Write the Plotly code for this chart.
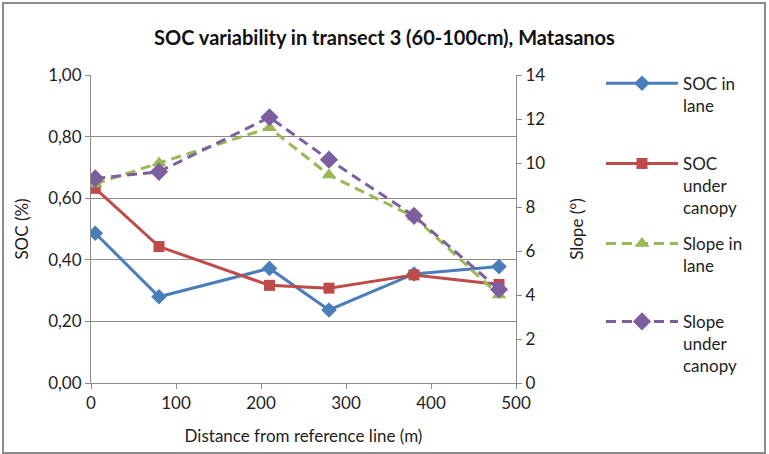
import plotly.graph_objects as go

# Distance along the transect (m)
distance = [5, 80, 210, 280, 380, 480]

# Soil organic carbon (%)
soc_lane = [0.486, 0.280, 0.372, 0.237, 0.354, 0.378]
soc_canopy = [0.632, 0.443, 0.317, 0.308, 0.351, 0.320]

# Slope (degrees)
slope_lane = [9.05, 10.0, 11.6, 9.45, 7.55, 4.0]
slope_canopy = [9.3, 9.6, 12.08, 10.15, 7.6, 4.25]

soc_ticks = [0.0, 0.2, 0.4, 0.6, 0.8, 1.0]
slope_ticks = [0, 2, 4, 6, 8, 10, 12, 14]
dist_ticks = [0, 100, 200, 300, 400, 500]

FONT = "Lato"
TXT = "#1e1e1e"
AXIS = "#8C8C8C"
BLUE = "#4A7EBB"
RED = "#BE4B48"
GREEN = "#98B954"
PURPLE = "#7D5FA0"

fig = go.Figure()
fig.add_trace(go.Scatter(
    x=distance, y=soc_lane, name="SOC in<br>lane", mode="lines+markers",
    line=dict(color=BLUE, width=3), marker=dict(symbol="diamond", size=12, color=BLUE),
    legend="legend", showlegend=True))
fig.add_trace(go.Scatter(
    x=distance, y=soc_canopy, name="SOC<br>under<br>canopy", mode="lines+markers",
    line=dict(color=RED, width=3), marker=dict(symbol="square", size=11, color=RED),
    legend="legend2", showlegend=True))
fig.add_trace(go.Scatter(
    x=distance, y=slope_lane, name="Slope in<br>lane", mode="lines+markers", yaxis="y2",
    line=dict(color=GREEN, width=3, dash="10px,6px"),
    marker=dict(symbol="triangle-up", size=13, color=GREEN),
    legend="legend3", showlegend=True))
fig.add_trace(go.Scatter(
    x=distance, y=slope_canopy, name="Slope<br>under<br>canopy", mode="lines+markers", yaxis="y2",
    line=dict(color=PURPLE, width=3, dash="10px,6px"),
    marker=dict(symbol="diamond", size=14, color=PURPLE),
    legend="legend4", showlegend=True))

axis_common = dict(
    showline=True, linecolor=AXIS, linewidth=1,
    ticks="outside", tickcolor=AXIS, ticklen=5,
    tickfont=dict(family=FONT, size=17, color=TXT),
    zeroline=False,
)


def legend_box(ytop):
    return dict(
        x=1.2, y=ytop, xanchor="left", yanchor="top",
        font=dict(family=FONT, size=17, color=TXT),
        itemwidth=72, valign="top",
        bgcolor="rgba(0,0,0,0)",
    )


fig.update_layout(
    width=769, height=454,
    margin=dict(l=91, r=253, t=75, b=71),
    paper_bgcolor="white", plot_bgcolor="white",
    separators=",.",
    showlegend=True,
    font=dict(family=FONT, color=TXT),
    title=dict(
        text="<b>SOC variability in transect 3 (60-100cm), Matasanos</b>",
        x=0.5, xanchor="center", y=0.916, yanchor="middle",
        font=dict(family=FONT, size=20, color="#111111"),
    ),
    xaxis=dict(
        range=[0, 500], tickvals=dist_ticks, showgrid=False,
        title=dict(text="Distance from reference line (m)", standoff=17,
                   font=dict(family=FONT, size=17)),
        **axis_common,
    ),
    yaxis=dict(
        range=[0, 1.0], tickvals=soc_ticks, tickformat=".2f",
        showgrid=True, gridcolor=AXIS, gridwidth=1,
        title=dict(text="SOC (%)", standoff=15, font=dict(family=FONT, size=17)),
        **axis_common,
    ),
    yaxis2=dict(
        overlaying="y", side="right", range=[0, 14], tickvals=slope_ticks,
        showgrid=False,
        title=dict(text="Slope (°)", standoff=26, font=dict(family=FONT, size=17)),
        **axis_common,
    ),
    legend=legend_box(1.03),
    legend2=legend_box(0.77),
    legend3=legend_box(0.51),
    legend4=legend_box(0.257),
    shapes=[dict(
        type="rect", xref="paper", yref="paper",
        x0=-88 / 425, x1=1 + 249 / 425,
        y0=-70 / 308, y1=1 + 72 / 308,
        line=dict(color=AXIS, width=2), layer="below",
    )],
)

fig.write_html("out.html")
